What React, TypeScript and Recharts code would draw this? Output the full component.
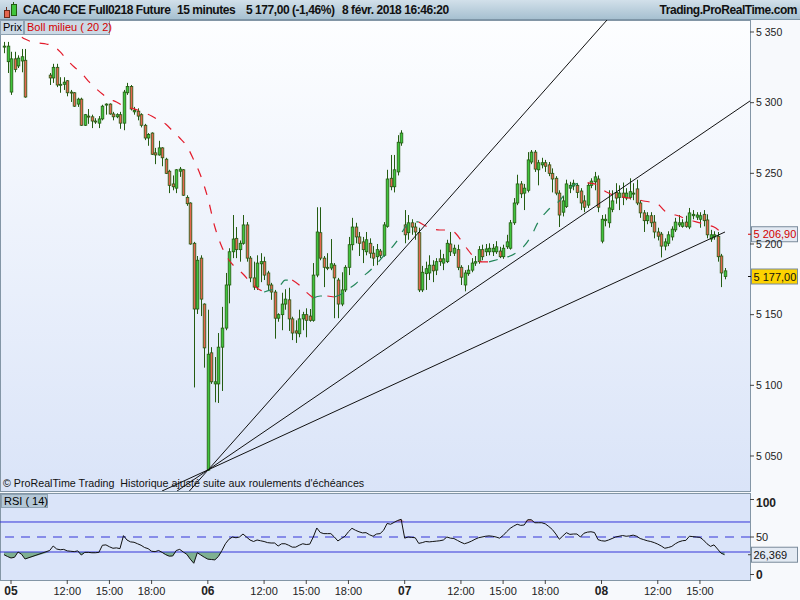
import React from "react";
import { Area, Bar, ComposedChart, Line, ReferenceLine, XAxis, YAxis } from "recharts";

type OHLC = [number, number, number, number] | null; // open, high, low, close

const FONT = '"Liberation Sans", Arial, sans-serif';

// 15-minute bars. Index 0 = 05 févr. 08:00, 56 bars per session (08:00-22:00)
const FIRST_BAR = -2;

const feb02: OHLC[] = [
  [5339.5, 5343, 5335, 5340], [5329, 5343, 5321, 5340],
];
const feb05: OHLC[] = [
  [5307.5, 5336, 5305.5, 5331], [5331, 5336, 5321.5, 5323.5], [5326, 5333.5, 5324.5, 5331.5], [5329.5, 5338, 5321.5, 5332.5],
  [5330, 5338, 5303.5, 5304], null, null, null, null, null, null,
  [5319.5, 5321, 5312.5, 5317.5], [5317.5, 5327.5, 5314, 5325], [5325, 5327.5, 5311, 5312.5], [5312.5, 5318, 5307, 5313],
  [5313, 5318, 5309, 5314.5], [5315.5, 5316, 5304.5, 5307], [5307.5, 5309, 5300.5, 5307], [5307, 5307.5, 5297, 5297.5],
  [5299, 5303.5, 5297, 5302.5], [5302.5, 5303.5, 5283.5, 5284], [5284, 5292, 5283.5, 5291.5], [5290.5, 5295.5, 5285, 5290],
  [5290, 5291.5, 5282, 5287], [5287, 5289, 5285, 5286.5], [5285.5, 5290.5, 5282, 5288.5], [5288.5, 5298.5, 5287.5, 5297.5],
  [5298.5, 5299.5, 5291.5, 5299], [5299, 5299.5, 5291.5, 5292], [5292, 5293.5, 5287.5, 5290], [5290, 5292.5, 5289, 5291.5],
  [5291.5, 5293.5, 5281.5, 5285.5], [5285.5, 5309, 5280.5, 5307.5], [5307, 5314, 5305.5, 5311.5], [5311.5, 5312.5, 5294.5, 5295.5],
  [5293.5, 5297, 5291.5, 5294.5], [5294, 5296, 5287.5, 5290.5], [5291.5, 5292.5, 5282.5, 5284], [5284, 5285, 5273.5, 5275],
  [5275, 5278.5, 5269.5, 5277.5], [5278.5, 5279, 5263, 5263.5], [5264.5, 5268, 5256.5, 5263], [5263, 5273, 5262.5, 5268],
  [5268, 5268.5, 5255, 5261], [5260, 5261, 5249.5, 5250], [5251.5, 5252.5, 5236, 5241.5], [5242.5, 5248.5, 5238, 5240.5],
  [5239.5, 5253, 5236, 5252.5], [5251.5, 5254.5, 5247.5, 5253], [5252.5, 5253, 5234, 5234.5], [5233, 5234.5, 5227, 5228.5],
  [5229, 5229.5, 5199.5, 5200], [5200.5, 5201.5, 5098.5, 5154], [5154, 5191.5, 5150.5, 5188.5], [5190, 5192, 5149, 5161],
  [5157.5, 5158, 5112.5, 5126.5],
];
const feb06: OHLC[] = [
  [5040, 5153.5, 5039.5, 5122], [5123, 5127, 5101, 5102.5], [5101, 5120, 5088, 5102.5], [5101, 5137, 5087.5, 5127],
  [5127, 5155.5, 5096, 5140.5], [5140.5, 5179.5, 5139, 5171], [5171, 5197, 5158, 5194.5], [5194.5, 5220.5, 5190, 5203.5],
  [5204, 5212, 5190, 5196], [5196, 5202.5, 5187.5, 5200.5], [5200.5, 5220.5, 5199.5, 5213.5], [5213.5, 5215.5, 5187.5, 5190],
  [5190, 5191.5, 5173, 5176], [5176, 5187.5, 5167.5, 5169.5], [5169.5, 5192, 5167.5, 5186.5], [5186, 5193.5, 5173, 5187.5],
  [5187.5, 5191, 5174.5, 5178], [5179.5, 5181, 5167.5, 5171], [5171, 5172.5, 5160.5, 5166], [5166, 5167.5, 5133, 5147.5],
  [5147.5, 5151, 5145, 5150], [5150, 5165.5, 5139, 5157.5], [5157.5, 5168, 5153.5, 5161], [5160.5, 5169, 5138.5, 5147],
  [5147, 5148.5, 5132, 5137], [5138.5, 5146, 5130, 5137], [5136.5, 5153.5, 5134, 5147], [5147, 5152, 5139, 5150],
  [5150, 5154.5, 5134, 5146], [5149, 5154, 5145, 5146], [5146, 5186.5, 5145, 5178], [5178, 5226, 5176.5, 5208.5],
  [5208, 5226, 5188.5, 5190], [5190, 5191.5, 5169.5, 5183.5], [5183.5, 5193.5, 5181.5, 5183], [5183, 5203.5, 5181.5, 5186],
  [5185, 5186.5, 5147.5, 5176], [5174.5, 5176, 5147.5, 5157.5], [5157.5, 5180, 5156, 5167.5], [5167.5, 5185, 5166, 5183.5],
  [5183.5, 5205, 5178, 5199.5], [5199.5, 5218.5, 5195.5, 5212], [5212, 5215, 5200.5, 5205], [5205, 5208.5, 5191.5, 5200.5],
  [5201.5, 5205, 5186.5, 5196], [5194.5, 5208.5, 5192, 5203], [5200.5, 5204, 5190, 5193.5], [5193.5, 5198.5, 5184.5, 5190],
  [5191, 5200, 5185, 5196], [5195, 5196.5, 5190, 5192], [5192, 5215.5, 5191, 5213.5], [5212.5, 5252.5, 5211.5, 5246],
  [5246.5, 5263, 5238, 5240.5], [5240.5, 5263, 5236.5, 5252.5], [5251, 5277, 5248.5, 5272], [5271.5, 5280.5, 5269.5, 5278.5],
];
const feb07: OHLC[] = [
  [5213.5, 5224, 5200.5, 5206.5], [5208, 5220.5, 5203, 5215], [5215, 5217.5, 5206.5, 5212], [5212, 5215, 5203, 5208.5],
  [5208, 5211.5, 5166, 5167.5], [5167.5, 5184.5, 5166, 5180], [5179, 5187.5, 5167.5, 5182.5], [5179.5, 5192, 5174.5, 5185],
  [5185, 5188.5, 5173, 5181], [5181.5, 5190, 5178, 5187.5], [5189.5, 5196, 5184.5, 5187.5], [5186.5, 5193, 5181.5, 5189.5],
  [5187.5, 5203, 5186.5, 5200.5], [5200, 5208.5, 5191.5, 5194.5], [5193.5, 5199.5, 5191.5, 5197], [5196, 5199.5, 5181.5, 5183.5],
  [5183.5, 5185, 5171, 5176.5], [5171, 5181.5, 5166.5, 5179.5], [5179, 5185, 5177.5, 5181.5], [5181.5, 5190, 5180, 5186.5],
  [5186.5, 5191.5, 5184.5, 5187.5], [5187.5, 5198.5, 5186, 5196], [5196, 5199.5, 5188.5, 5191], [5194.5, 5200, 5191.5, 5196.5],
  [5194.5, 5200.5, 5192, 5197], [5194.5, 5200, 5191.5, 5197], [5194.5, 5202, 5193, 5198], [5195, 5198, 5190, 5191],
  [5191, 5199.5, 5189.5, 5197], [5198, 5206.5, 5196.5, 5201.5], [5197, 5217, 5196, 5215], [5215, 5232.5, 5213.5, 5229],
  [5229, 5249, 5227.5, 5242.5], [5242.5, 5244.5, 5232.5, 5235.5], [5236, 5242.5, 5224, 5239.5], [5238, 5265, 5236.5, 5259.5],
  [5258, 5266.5, 5256.5, 5265], [5265, 5266.5, 5251, 5253], [5252.5, 5259.5, 5241.5, 5257.5], [5256, 5261, 5253.5, 5257.5],
  [5257.5, 5259.5, 5251, 5255], [5256, 5258, 5248, 5250], [5250, 5253.5, 5236.5, 5246], [5246.5, 5248, 5234.5, 5236],
  [5236, 5238, 5212, 5220.5], [5222.5, 5234, 5219.5, 5230.5], [5226.5, 5245.5, 5225.5, 5242.5], [5239.5, 5244, 5236, 5241.5],
  [5241, 5245.5, 5238, 5243], [5241.5, 5243, 5232.5, 5236.5], [5237.5, 5239.5, 5224, 5229], [5230.5, 5234.5, 5222.5, 5226],
  [5227.5, 5243.5, 5225.5, 5241.5], [5241.5, 5246.5, 5239.5, 5244.5], [5244, 5251, 5238, 5247.5], [5246, 5248.5, 5222.5, 5226],
];
const feb08: OHLC[] = [
  [5202, 5220.5, 5200.5, 5217.5], [5216.5, 5221, 5212.5, 5217.5], [5215, 5238, 5211.5, 5225.5], [5224.5, 5238, 5222.5, 5230.5],
  [5236.5, 5243, 5228.5, 5232.5], [5233, 5241.5, 5224, 5236], [5236, 5243.5, 5227.5, 5233], [5232.5, 5239.5, 5231, 5236],
  [5233, 5246.5, 5231.5, 5237], [5235.5, 5243, 5231, 5236], [5239, 5245.5, 5227.5, 5229], [5229, 5231, 5218.5, 5222],
  [5222, 5224, 5208.5, 5216.5], [5216.5, 5222.5, 5214, 5220], [5220, 5222.5, 5212, 5215], [5215.5, 5220.5, 5204, 5208.5],
  [5208.5, 5211.5, 5202.5, 5205.5], [5207, 5208.5, 5190.5, 5198.5], [5198.5, 5204, 5195.5, 5201.5], [5200.5, 5209, 5198.5, 5206.5],
  [5205, 5212.5, 5202.5, 5210.5], [5210, 5218.5, 5208.5, 5215.5], [5213.5, 5220.5, 5212, 5215], [5212.5, 5217.5, 5211.5, 5215],
  [5215.5, 5220, 5211.5, 5212.5], [5212, 5225.5, 5210.5, 5222], [5220, 5224, 5217.5, 5221], [5219, 5222.5, 5217, 5220.5],
  [5217.5, 5222.5, 5211.5, 5220], [5221, 5224, 5212.5, 5216.5], [5217, 5221, 5204, 5206.5], [5203.5, 5210, 5201.5, 5206.5],
  [5205, 5209, 5203, 5206.5], [5205.5, 5208.5, 5187.5, 5191], [5191.5, 5193, 5169.5, 5179.5], [5177, 5183, 5175, 5181],
];

// RSI(14), one value per bar
const rsi02 = [26.5, 24];
const rsi05: (number | null)[] = [
  22, 23, 30, 27, 20.7, null, null, null, null, null, null,
  32, 38, 34, 33, 33.5, 31.5, 31, 30.5, 31.5, 26, 29.5, 29.5, 29, 29, 29.5, 39, 39.5, 37, 35, 35.5,
  34.5, 51.8, 46, 43.5, 43, 41, 39, 36, 34.5, 31, 30.5, 32, 29.5, 26.5, 24.5, 24.7, 32, 33.5, 30, 27,
  20.5, 15, 29, 26, 23,
];
const rsi06 = [
  20.5, 20, 19.5, 24, 32, 41, 47, 50, 49, 50, 54, 50, 46, 44, 46, 45, 44, 42.5, 42, 42,
  38, 41, 41, 39, 36.5, 36.5, 39, 41, 40, 40.5, 50, 62, 56, 54.5, 54.5, 54.5, 50, 44.7, 48, 51,
  57, 61.6, 59, 57, 55.5, 55.8, 53, 51, 54, 54.5, 59, 68, 67, 69.5, 72, 73.6,
];
const rsi07 = [
  48.5, 50, 49.5, 49, 41.5, 42.5, 44, 43.5, 44, 44.5, 45, 46, 50, 48.5, 48, 45.5, 43, 41, 42.5, 44.5,
  47, 49, 50, 51, 51.5, 51, 50, 48.5, 52, 57, 61.5, 64.5, 67, 65.5, 66, 73, 73, 69, 69, 69,
  67.5, 64, 60, 54, 47, 51.5, 55.8, 53.5, 54, 54, 50, 55, 56.5, 57, 56, 46.5,
];
const rsi08 = [
  45, 44.5, 46, 48, 50, 51, 52, 51, 51.5, 52.5, 51, 48, 46.5, 45, 44, 42.5, 40.5, 38, 35, 36,
  37.5, 41, 43.5, 45, 45.5, 51, 50.5, 50, 49.5, 46, 41, 37.5, 39.5, 34, 28.5, 26.369,
];

// Bollinger middle band (20, 2), read every 2 bars from bar -2, plus the last bar
const bollEvery2 = [
  5350.7, 5349.3, 5347.9, 5345.0, 5342.9, 5342.2, 5341.5, 5340.1, 5335.9, 5330.2,
  5325.2, 5321.0, 5315.3, 5310.4, 5306.1, 5302.6, 5300.5, 5297.6, 5296.2, 5294.8,
  5292.7, 5290.6, 5287.7, 5284.9, 5279.9, 5275.0, 5269.3, 5259.4, 5248.1, 5232.5,
  5212.0, 5197.9, 5188.7, 5183.0, 5178.8, 5173.1, 5168.9, 5166.0, 5167.5, 5168.9,
  5174.5, 5174.5, 5171.0, 5166.0, 5161.8, 5163.2, 5163.2, 5162.5, 5164.6, 5168.2,
  5171.7, 5176.7, 5180.9, 5185.8, 5191.5, 5196.5, 5202.8, 5211.3, 5215.6, 5215.6,
  5212.7, 5210.6, 5209.9, 5209.9, 5208.5, 5202.8, 5195.8, 5190.1, 5187.3, 5187.3,
  5188.7, 5190.1, 5191.5, 5194.3, 5198.6, 5205.7, 5215.6, 5221.9, 5226.9, 5230.4,
  5236.8, 5241.7, 5243.2, 5243.2, 5242.5, 5238.9, 5236.1, 5234.0, 5233.2, 5232.5,
  5231.8, 5230.4, 5229.7, 5228.3, 5223.3, 5221.2, 5219.8, 5217.7, 5216.3, 5214.9,
  5213.4, 5212.0, 5208.5,
];
const bollLast = 5206.9;
const lastPrice = 5177;
const lastRsi = 26.369;

// fan lines drawn from the 06 low: [bar, price] -> [bar, price]
const fanLines: [number, number, number, number][] = [
  [50.75, 5025.2, 169.56, 5358.5],
  [47.23, 5025.2, 210.24, 5301.2],
  [42.96, 5025.2, 203.13, 5208.5],
];

const xTicks = [0, 16, 28, 40, 56, 72, 84, 96, 112, 128, 140, 152, 168, 184, 196];
const xTickLabels = ["05", "12:00", "15:00", "18:00", "06", "12:00", "15:00", "18:00", "07", "12:00", "15:00", "18:00", "08", "12:00", "15:00"];
const priceTicks = [5050, 5100, 5150, 5200, 5250, 5300, 5350];
const rsiTicks = [0, 50, 100];
const rsiLevels = { high: 70, mid: 50, low: 30 };

const X_DOMAIN: [number, number] = [-3.13, 210.24];
const P_DOMAIN: [number, number] = [5025.23, 5358.49];
const R_DOMAIN: [number, number] = [-7.33, 107.33];

const GREEN = "#40c43c";
const RED = "#e4664f";
const WICK = "#245c12";
const BLUE = "#3434d8";
const BORDER = "#8396a6";

const bars = [...feb02, ...feb05, ...feb06, ...feb07, ...feb08];
const rsi = [...rsi02, ...rsi05, ...rsi06, ...rsi07, ...rsi08];

const rows = bars.map((b, k) => {
  const r = rsi[k];
  return {
    i: FIRST_BAR + k,
    o: b ? b[0] : null,
    h: b ? b[1] : null,
    l: b ? b[2] : null,
    c: b ? b[3] : null,
    range: b ? [b[2], b[1]] : null,
    rsi: r,
    rsiLow: r == null ? null : [Math.min(r, rsiLevels.low), rsiLevels.low],
    rsiHigh: r == null ? null : [rsiLevels.high, Math.max(r, rsiLevels.high)],
  };
});

// split the Bollinger middle into rising (green) and falling (red) runs
const bollPts = bollEvery2.map((v, k) => ({ i: FIRST_BAR + 2 * k, v })).concat([{ i: 203, v: bollLast }]);
const bollRuns: { up: boolean; pts: { i: number; v: number }[] }[] = [];
let prevUp = false;
for (let k = 0; k < bollPts.length - 1; k++) {
  const a = bollPts[k];
  const b = bollPts[k + 1];
  const up = b.v === a.v ? prevUp : b.v > a.v;
  const last = bollRuns[bollRuns.length - 1];
  if (last && last.up === up) last.pts.push(b);
  else bollRuns.push({ up, pts: [a, b] });
  prevUp = up;
}

const fr = (v: number, d: number) => {
  const [int, dec] = v.toFixed(d).split(".");
  const sp = int.replace(/\B(?=(\d{3})+(?!\d))/g, " ");
  return dec ? `${sp},${dec}` : sp;
};

function Candle(props: any) {
  const { x, width, payload } = props;
  let { y, height } = props;
  if (!payload || payload.o == null) return null;
  if (height < 0) {
    y += height;
    height = -height;
  }
  const { o, h, l, c } = payload;
  const k = h === l ? 0 : height / (h - l);
  const yO = y + (h - o) * k;
  const yC = y + (h - c) * k;
  const cx = Math.round(x + width / 2) + 0.5;
  const top = Math.min(yO, yC);
  const bh = Math.max(Math.abs(yC - yO), 1);
  return (
    <g>
      <line x1={cx} x2={cx} y1={y} y2={y + height} stroke={WICK} strokeWidth={1} />
      <rect x={cx - 1.3} y={top} width={2.6} height={bh} fill={c >= o ? GREEN : RED} stroke={WICK} strokeWidth={0.8} />
    </g>
  );
}

function Tag({ viewBox, text, color, bg, tick }: any) {
  const x = viewBox.x + viewBox.width;
  const y = viewBox.y;
  return (
    <g>
      <line x1={x - 2} x2={x + 2} y1={y} y2={y} stroke={tick} />
      <rect x={x + 1.5} y={y - 7.5} width={46} height={15} fill={bg} stroke="#7a8b9b" />
      <text x={x + 3.5} y={y + 4} fontSize={11} fill={color} fontFamily={FONT}>{text}</text>
    </g>
  );
}

function TimeTick({ x, y, payload }: any) {
  const label = xTickLabels[xTicks.indexOf(payload.value)] ?? "";
  const day = label.length === 2;
  return (
    <text x={x} y={y + 9} textAnchor="middle" fontSize={day ? 12 : 11} fontWeight={day ? 700 : 400} fill="#222" fontFamily={FONT}>
      {label}
    </text>
  );
}

function RsiTick({ x, y, payload }: any) {
  const v = payload.value;
  const bold = v !== 50;
  return (
    <text x={x} y={y + 4} fontSize={bold ? 12 : 11} fontWeight={bold ? 700 : 400} fill="#222" fontFamily={FONT}>
      {v}
    </text>
  );
}

function Header() {
  const t: React.CSSProperties = { position: "absolute", top: 3, fontWeight: 700, fontSize: 12, letterSpacing: -0.45, color: "#111", whiteSpace: "nowrap" };
  return (
    <div style={{ position: "absolute", left: 0, top: 0, width: 800, height: 20, background: "linear-gradient(#d2e0ea, #a6c0d0)", borderBottom: "1px solid #7d95a6", boxSizing: "border-box" }}>
      <div style={{ position: "absolute", left: 6, top: 7, width: 1, height: 11, background: "#6b2a1a" }} />
      <div style={{ position: "absolute", left: 4, top: 10, width: 4, height: 6, background: "#e4664f", border: "1px solid #6b2a1a" }} />
      <div style={{ position: "absolute", left: 13, top: 2, width: 1, height: 14, background: WICK }} />
      <div style={{ position: "absolute", left: 11, top: 4, width: 4, height: 10, background: GREEN, border: `1px solid ${WICK}` }} />
      <span style={{ ...t, left: 23 }}>CAC40 FCE Full0218 Future</span>
      <span style={{ ...t, left: 177 }}>15 minutes</span>
      <span style={{ ...t, left: 246 }}>{fr(lastPrice, 2)} (-1,46%)</span>
      <span style={{ ...t, left: 342 }}>8 févr. 2018 16:46:20</span>
      <span style={{ ...t, right: 3 }}>Trading.ProRealTime.com</span>
    </div>
  );
}

const box: React.CSSProperties = { position: "absolute", height: 15, boxSizing: "border-box", background: "#cbd9e5", border: "1px solid #8ea2b2", fontSize: 11, lineHeight: "13px", paddingLeft: 2, whiteSpace: "nowrap" };

export default function App() {
  return (
    <div style={{ position: "absolute", left: 0, top: 0, width: 800, height: 600, overflow: "hidden", background: "#f7f9fc", fontFamily: FONT }}>
      <Header />
      <div style={{ position: "absolute", left: 0, top: 20, width: 751, height: 472, boxSizing: "border-box", background: "linear-gradient(#fdfeff, #dae4f8)", border: `1px solid ${BORDER}` }} />
      <div style={{ position: "absolute", left: 0, top: 493, width: 751, height: 88, boxSizing: "border-box", background: "#dae4f9", border: `1px solid ${BORDER}` }} />

      <div style={{ position: "absolute", left: 0, top: 20 }}>
        <ComposedChart width={800} height={471} data={rows} margin={{ top: 0, right: 0, bottom: 0, left: 0 }}>
          <XAxis dataKey="i" type="number" domain={X_DOMAIN} allowDataOverflow hide />
          <YAxis
            orientation="right"
            width={50}
            domain={P_DOMAIN}
            ticks={priceTicks}
            allowDataOverflow
            axisLine={false}
            tickSize={4}
            tickLine={{ stroke: "#444" }}
            tick={{ fill: "#222", fontSize: 10.5, fontFamily: FONT }}
            tickFormatter={(v: number) => fr(v, 0)}
          />
          <Bar dataKey="range" shape={<Candle />} isAnimationActive={false} />
          {bollRuns.map((run, k) => (
            <Line
              key={k}
              data={run.pts}
              dataKey="v"
              stroke={run.up ? "#23865a" : "#e31b2b"}
              strokeWidth={1.2}
              strokeDasharray="9 10"
              dot={false}
              type="monotone"
              isAnimationActive={false}
            />
          ))}
          {fanLines.map(([x1, y1, x2, y2], k) => (
            <ReferenceLine key={k} segment={[{ x: x1, y: y1 }, { x: x2, y: y2 }]} stroke="#111" strokeWidth={1} ifOverflow="visible" />
          ))}
          <ReferenceLine
            y={bollLast}
            stroke="none"
            ifOverflow="visible"
            label={(p: any) => <Tag {...p} text={fr(bollLast, 2)} color="#d40000" bg="#e3eaf3" tick="#d40000" />}
          />
          <ReferenceLine
            y={lastPrice}
            stroke="none"
            ifOverflow="visible"
            label={(p: any) => <Tag {...p} text={fr(lastPrice, 2)} color="#111" bg="#fcd200" tick="#111" />}
          />
        </ComposedChart>
      </div>

      <div style={{ ...box, left: 0, top: 20, width: 24 }}>Prix</div>
      <div style={{ ...box, left: 24, top: 20, width: 86, color: "#d40000" }}>Boll milieu ( 20 2)</div>
      <div style={{ position: "absolute", left: 3, top: 477, fontSize: 10.7, color: "#111", whiteSpace: "nowrap" }}>
        © ProRealTime Trading&nbsp; Historique ajusté suite aux roulements d'échéances
      </div>

      <div style={{ position: "absolute", left: 0, top: 494 }}>
        <ComposedChart width={800} height={106} data={rows} margin={{ top: 0, right: 0, bottom: 0, left: 0 }}>
          <XAxis
            dataKey="i"
            type="number"
            domain={X_DOMAIN}
            allowDataOverflow
            ticks={xTicks}
            interval={0}
            height={20}
            tickSize={4}
            axisLine={false}
            tickLine={{ stroke: "#444" }}
            tick={<TimeTick />}
          />
          <YAxis
            orientation="right"
            width={50}
            domain={R_DOMAIN}
            ticks={rsiTicks}
            allowDataOverflow
            axisLine={false}
            tickSize={4}
            tickLine={{ stroke: "#444" }}
            tick={<RsiTick />}
          />
          <Area dataKey="rsiLow" stroke="none" fill="#6fa77f" fillOpacity={0.85} connectNulls isAnimationActive={false} />
          <Area dataKey="rsiHigh" stroke="none" fill="#d98b8b" fillOpacity={0.85} connectNulls isAnimationActive={false} />
          <ReferenceLine y={rsiLevels.high} stroke={BLUE} />
          <ReferenceLine y={rsiLevels.mid} stroke={BLUE} strokeDasharray="9 7" />
          <ReferenceLine y={rsiLevels.low} stroke={BLUE} />
          <Line dataKey="rsi" stroke="#111" strokeWidth={1} dot={false} connectNulls isAnimationActive={false} />
          <ReferenceLine
            y={lastRsi}
            stroke="none"
            ifOverflow="visible"
            label={(p: any) => <Tag {...p} text={fr(lastRsi, 3)} color="#111" bg="#e3eaf3" tick="#444" />}
          />
        </ComposedChart>
      </div>
      <div style={{ ...box, left: 1, top: 494, width: 47, height: 14, background: "#b4c7d7" }}>RSI ( 14)</div>
    </div>
  );
}
